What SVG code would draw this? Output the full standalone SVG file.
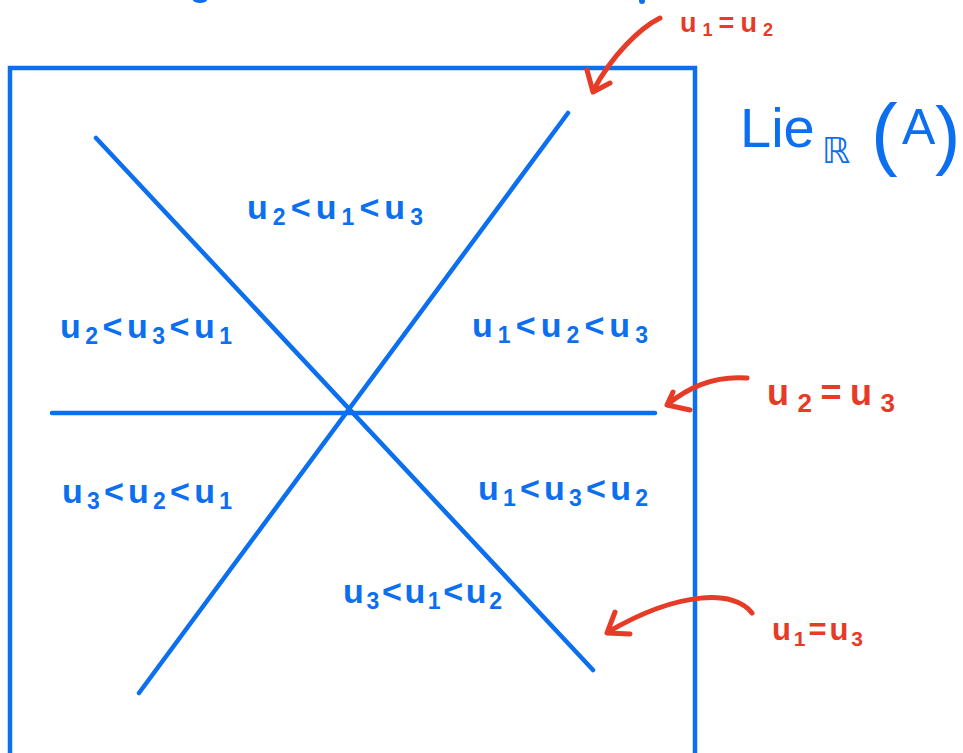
<svg xmlns="http://www.w3.org/2000/svg" width="963" height="753" viewBox="0 0 963 753">
<style>
.ln{stroke:#0b6ff0;stroke-width:4.5;fill:none;stroke-linecap:round}
.ar{stroke:#e63b26;stroke-width:5;fill:none;stroke-linecap:round;stroke-linejoin:round}
.lb{font-family:"Liberation Sans",Arial,sans-serif;font-weight:bold;font-size:34px;fill:#0b6ff0}
.rl{font-family:"Liberation Sans",Arial,sans-serif;font-weight:bold;fill:#e63b26}
.sb{font-size:23px}
.hw{font-family:"Liberation Sans",Arial,sans-serif;fill:#0b6ff0}
</style>
<rect width="963" height="753" fill="#ffffff"/>
<g id="frame">
<path class="ln" d="M10,753 V68 H695 V753" stroke-linecap="butt" stroke-width="5"/>
<ellipse cx="200" cy="0" rx="7" ry="3" fill="#0b6ff0"/>
<circle cx="642" cy="1" r="3" fill="#0b6ff0"/>
</g>
<g id="connectors">
<line class="ln" x1="96" y1="138" x2="593" y2="670"/>
<line class="ln" x1="568" y1="113" x2="139" y2="693"/>
<line class="ln" x1="52" y1="413" x2="655" y2="413"/>
<path class="ar" d="M660,18 C640,28 612,55 593,91 M587,70 L593,92 L610,83"/>
<path class="ar" d="M747,378 C722,376 695,382 668,404 M673,392 L667,405 L690,410"/>
<path class="ar" d="M752,613 C735,590 680,590 608,632 M615,612 L607,633 L630,634"/>
</g>
<g id="title">
<text class="hw" x="740" y="147" font-size="56">Lie</text>
<text x="822" y="163" font-size="36" font-family="DejaVu Sans,sans-serif" fill="#0b6ff0">ℝ</text>
<text class="hw" x="871" y="160" font-size="80">(</text>
<text class="hw" x="902" y="144" font-size="50">A</text>
<text class="hw" x="935" y="160" font-size="76">)</text>
</g>
<g id="region1"><text class="lb" x="247" y="219" textLength="176" lengthAdjust="spacing">u<tspan class="sb" dy="6">2</tspan><tspan dy="-6">&lt;u</tspan><tspan class="sb" dy="6">1</tspan><tspan dy="-6">&lt;u</tspan><tspan class="sb" dy="6">3</tspan></text></g>
<g id="region2"><text class="lb" x="60" y="338" textLength="172" lengthAdjust="spacing">u<tspan class="sb" dy="6">2</tspan><tspan dy="-6">&lt;u</tspan><tspan class="sb" dy="6">3</tspan><tspan dy="-6">&lt;u</tspan><tspan class="sb" dy="6">1</tspan></text></g>
<g id="region3"><text class="lb" x="472" y="337" textLength="176" lengthAdjust="spacing">u<tspan class="sb" dy="6">1</tspan><tspan dy="-6">&lt;u</tspan><tspan class="sb" dy="6">2</tspan><tspan dy="-6">&lt;u</tspan><tspan class="sb" dy="6">3</tspan></text></g>
<g id="region4"><text class="lb" x="62" y="503" textLength="170" lengthAdjust="spacing">u<tspan class="sb" dy="6">3</tspan><tspan dy="-6">&lt;u</tspan><tspan class="sb" dy="6">2</tspan><tspan dy="-6">&lt;u</tspan><tspan class="sb" dy="6">1</tspan></text></g>
<g id="region5"><text class="lb" x="478" y="500" textLength="170" lengthAdjust="spacing">u<tspan class="sb" dy="6">1</tspan><tspan dy="-6">&lt;u</tspan><tspan class="sb" dy="6">3</tspan><tspan dy="-6">&lt;u</tspan><tspan class="sb" dy="6">2</tspan></text></g>
<g id="region6"><text class="lb" x="343" y="603" textLength="159" lengthAdjust="spacing">u<tspan class="sb" dy="6">3</tspan><tspan dy="-6">&lt;u</tspan><tspan class="sb" dy="6">1</tspan><tspan dy="-6">&lt;u</tspan><tspan class="sb" dy="6">2</tspan></text></g>
<g id="label-u1u2"><text class="rl" x="680" y="32" font-size="27" textLength="93" lengthAdjust="spacing">u<tspan font-size="18" dy="4">1</tspan><tspan dy="-4">=u</tspan><tspan font-size="18" dy="4">2</tspan></text></g>
<g id="label-u2u3"><text class="rl" x="767" y="405" font-size="36" textLength="128" lengthAdjust="spacing">u<tspan font-size="26" dy="7">2</tspan><tspan dy="-7">=u</tspan><tspan font-size="26" dy="7">3</tspan></text></g>
<g id="label-u1u3"><text class="rl" x="772" y="640" font-size="31" textLength="91" lengthAdjust="spacing">u<tspan font-size="21" dy="6">1</tspan><tspan dy="-6">=u</tspan><tspan font-size="21" dy="6">3</tspan></text></g>
</svg>
